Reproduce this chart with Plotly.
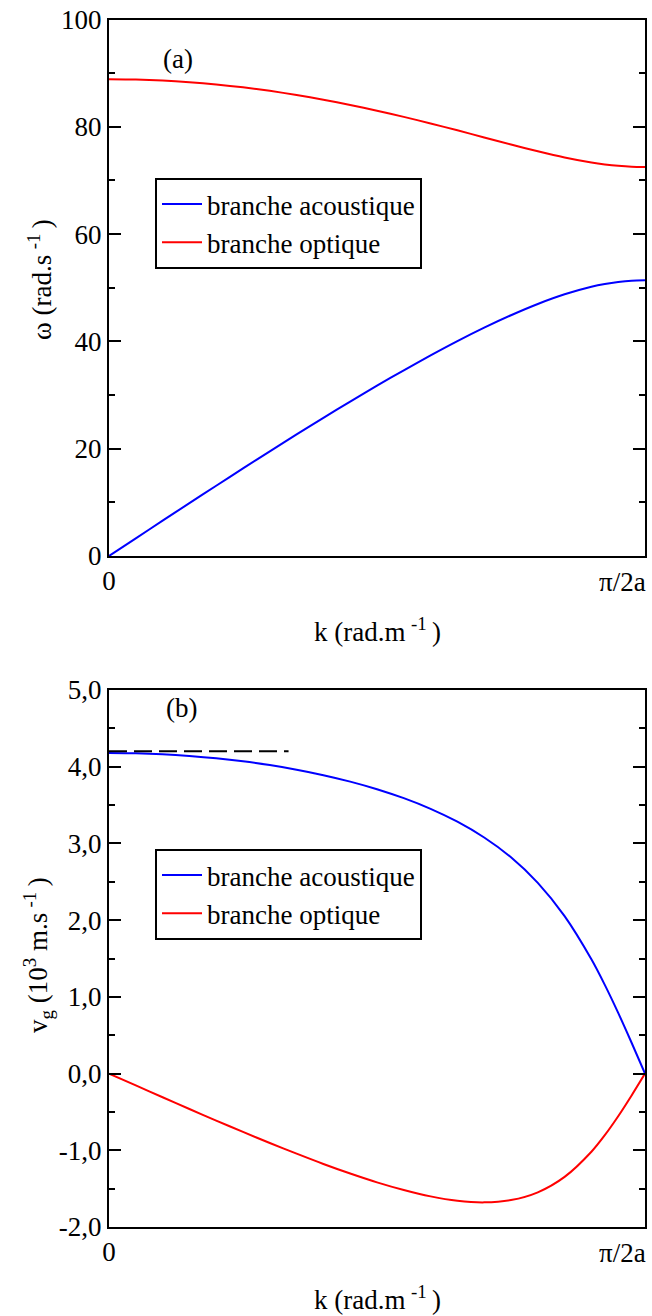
import plotly.graph_objects as go

# k expressed as a fraction of pi/2a
k_frac = [0.0, 0.05, 0.1, 0.15, 0.2, 0.25, 0.3, 0.35, 0.4, 0.45, 0.5, 0.55,
          0.6, 0.65, 0.7, 0.75, 0.8, 0.85, 0.9, 0.925, 0.95, 0.975, 1.0]

omega_acoustic = [0.0, 3.29, 6.58, 9.85, 13.10, 16.32, 19.51, 22.66, 25.75, 28.78,
                  31.74, 34.62, 37.39, 40.05, 42.56, 44.88, 46.98, 48.78, 50.18,
                  50.70, 51.08, 51.32, 51.40]
omega_optique = [88.87, 88.81, 88.63, 88.32, 87.90, 87.36, 86.70, 85.93, 85.06, 84.08,
                 83.01, 81.85, 80.62, 79.34, 78.02, 76.70, 75.44, 74.29, 73.35,
                 72.99, 72.72, 72.55, 72.50]

vg_acoustic = [4.18, 4.176, 4.163, 4.141, 4.111, 4.071, 4.021, 3.961, 3.890, 3.806,
               3.707, 3.590, 3.451, 3.283, 3.077, 2.819, 2.486, 2.052, 1.489,
               1.156, 0.791, 0.402, 0.0]
vg_optique = [0.0, -0.155, -0.309, -0.462, -0.613, -0.761, -0.905, -1.044, -1.178,
              -1.303, -1.418, -1.518, -1.601, -1.658, -1.679, -1.649, -1.548,
              -1.347, -1.019, -0.803, -0.556, -0.285, 0.0]

vg_limit_x = [0.0, 0.335]
vg_limit_y = [4.2, 4.2]

labels = ["branche acoustique", "branche optique"]
x_ticklabels = ["0", "π/2a"]

W, H = 652, 1316
FONT = "Liberation Serif"
FS = 27

def px_x(p):
    return p / W

def px_y(p):
    return 1 - p / H

fig = go.Figure()

fig.add_trace(go.Scatter(x=k_frac, y=omega_acoustic, mode="lines", name=labels[0],
                         line=dict(color="#0000ff", width=2, shape="spline", smoothing=0.8),
                         xaxis="x", yaxis="y", legend="legend"))
fig.add_trace(go.Scatter(x=k_frac, y=omega_optique, mode="lines", name=labels[1],
                         line=dict(color="#ff0000", width=2, shape="spline", smoothing=0.8),
                         xaxis="x", yaxis="y", legend="legend"))
fig.add_trace(go.Scatter(x=k_frac, y=vg_acoustic, mode="lines", name=labels[0],
                         line=dict(color="#0000ff", width=2, shape="spline", smoothing=0.8),
                         xaxis="x2", yaxis="y2", legend="legend2"))
fig.add_trace(go.Scatter(x=k_frac, y=vg_optique, mode="lines", name=labels[1],
                         line=dict(color="#ff0000", width=2, shape="spline", smoothing=0.8),
                         xaxis="x2", yaxis="y2", legend="legend2"))
fig.add_trace(go.Scatter(x=vg_limit_x, y=vg_limit_y, mode="lines", showlegend=False,
                         line=dict(color="black", width=2, dash="18px,7px"),
                         xaxis="x2", yaxis="y2"))

xdom = [px_x(109), px_x(645)]
ydom1 = [px_y(556), px_y(19.5)]
ydom2 = [px_y(1227), px_y(690)]

tickfont = dict(family=FONT, size=FS, color="black")

xcommon = dict(range=[0, 1], domain=xdom, showgrid=False, zeroline=False,
               showline=True, linecolor="black", linewidth=2, mirror=True,
               ticks="", tickvals=[0], ticktext=[x_ticklabels[0]],
               tickfont=tickfont, automargin=False)
ycommon = dict(showgrid=False, zeroline=False, showline=True, linecolor="black",
               linewidth=2, mirror="ticks", ticks="inside", ticklen=12, tickwidth=2,
               tickcolor="black", tickfont=tickfont, automargin=False)

legfont = dict(family=FONT, size=FS, color="black")

fig.update_layout(
    width=W, height=H,
    margin=dict(l=0, r=0, t=0, b=0, pad=0, autoexpand=False),
    paper_bgcolor="white", plot_bgcolor="white",
    font=dict(family=FONT, size=FS, color="black"),
    xaxis=dict(**xcommon, anchor="y"),
    yaxis=dict(**ycommon, domain=ydom1, range=[0, 100], tickvals=[0, 20, 40, 60, 80, 100],
               minor=dict(dtick=10, ticks="inside", ticklen=6, tickwidth=2, tickcolor="black"),
               anchor="x"),
    xaxis2=dict(**xcommon, anchor="y2"),
    yaxis2=dict(**ycommon, domain=ydom2, range=[-2, 5], tickvals=[-2, -1, 0, 1, 2, 3, 4, 5],
                ticktext=["-2,0", "-1,0", "0,0", "1,0", "2,0", "3,0", "4,0", "5,0"],
                minor=dict(dtick=0.5, ticks="inside", ticklen=6, tickwidth=2, tickcolor="black"),
                anchor="x2"),
    legend=dict(x=px_x(155), y=px_y(178), xanchor="left", yanchor="top",
                bgcolor="white", bordercolor="black", borderwidth=2,
                font=legfont, tracegroupgap=0, itemwidth=40),
    legend2=dict(x=px_x(155), y=px_y(849), xanchor="left", yanchor="top",
                 bgcolor="white", bordercolor="black", borderwidth=2,
                 font=legfont, tracegroupgap=0, itemwidth=40),
    showlegend=True,
)

afont = dict(family=FONT, size=FS, color="black")

def note(text, xp, yp, angle=0, xanchor="center"):
    return dict(text=text, x=px_x(xp), y=px_y(yp), xref="paper", yref="paper",
                xanchor=xanchor, yanchor="middle", showarrow=False,
                textangle=angle, font=afont)

ts = "\u2009"
ann = [
    note("(a)", 178, 59),
    note("(b)", 181, 708),
    note(x_ticklabels[1], 648, 582, xanchor="right"),
    note(x_ticklabels[1], 648, 1253, xanchor="right"),
    note("k (rad.m" + ts + "<sup>-1</sup>" + ts + ")", 377, 630),
    note("k (rad.m" + ts + "<sup>-1</sup>" + ts + ")", 377, 1298),
    note("ω (rad.s" + ts + "<sup>-1</sup>" + ts + ")", 40, 280, angle=-90),
    note("v<sub>g</sub> (10<sup>3</sup> m.s" + ts + "<sup>-1</sup>" + ts + ")", 38, 955, angle=-90),
]
fig.update_layout(annotations=ann)

fig.write_html("out.html")
